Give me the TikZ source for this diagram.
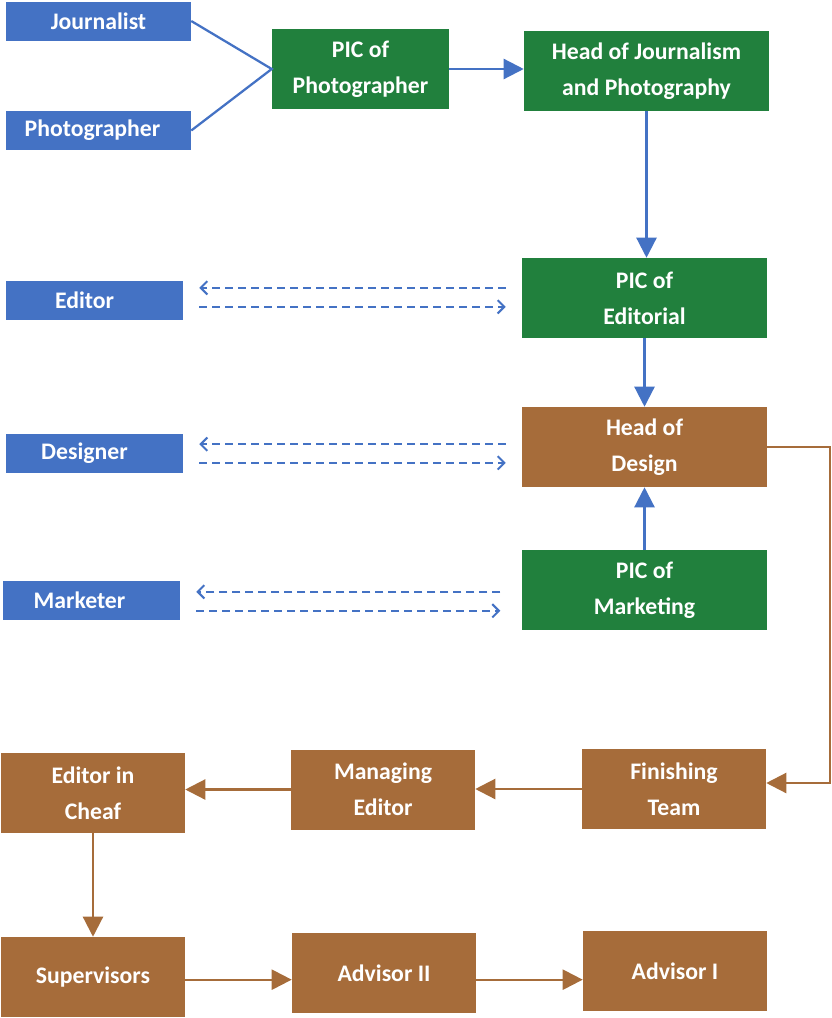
\documentclass[tikz,border=0pt]{standalone}
\usepackage{fontspec}
\setmainfont{Carlito}
\usepackage{tikz}
\usetikzlibrary{arrows.meta}
\usepackage{xcolor}
\definecolor{boxblue}{RGB}{68,114,196}
\definecolor{boxgreen}{RGB}{33,128,61}
\definecolor{boxbrown}{RGB}{166,108,58}

\begin{document}
\begin{tikzpicture}[x=0.75pt,y=0.75pt,yscale=-1,xscale=1,
  box/.style={text=white, font=\fontsize{17.8}{27}\selectfont\bfseries, align=center, inner sep=0pt},
  bluebox/.style={box, fill=boxblue, minimum width=132.75pt, minimum height=29.25pt},
  greenbox/.style={box, fill=boxgreen, minimum width=183.75pt, minimum height=60pt},
  brownbox/.style={box, fill=boxbrown, minimum width=138pt, minimum height=60pt},
  bluearr/.style={draw=boxblue, line width=1.7pt, -{Triangle[length=15pt,width=15pt]}},
  brownarr/.style={draw=boxbrown, line width=1.7pt, -{Triangle[length=15pt,width=15pt]}},
  dasharr/.style={draw=boxblue, line width=1.5pt, dash pattern={on 6pt off 3.75pt}, shorten <=12pt, shorten >=12pt, -{Straight Barb[length=5pt,width=10pt]}}
]
\useasboundingbox (0,0) rectangle (832,1018);

% Blue boxes
\node [bluebox, minimum width=138.75pt] (jour) at (98.5,21) {Journalist};
\node [bluebox, minimum width=138.75pt] (phot) at (98.5,130.5) {Photographer\kern9pt};
\node [bluebox] (ed) at (94.5,300.5) {Editor\kern15pt};
\node [bluebox] (des) at (94.5,453.5) {Designer\kern15pt};
\node [bluebox] (mark) at (91.5,600.5) {Marketer\kern18pt};

% Green boxes
\node [greenbox, minimum width=132.75pt] (picph) at (360.5,69) {PIC of\\Photographer};
\node [greenbox] (headjp) at (646.5,71) {Head of Journalism\\and Photography};
\node [greenbox] (pice) at (644.5,298) {PIC of\\Editorial};
\node [greenbox] (picm) at (644.5,590) {PIC of\\Marketing};

% Brown boxes
\node [brownbox, minimum width=183.75pt] (headd) at (644.5,447) {Head of\\Design};
\node [brownbox] (eic) at (93,793) {Editor in\\Cheaf};
\node [brownbox] (maned) at (383,789.5) {Managing\\Editor};
\node [brownbox] (fin) at (674,789) {Finishing\\Team};
\node [brownbox] (sup) at (93,977) {Supervisors};
\node [brownbox] (adv2) at (384,973) {Advisor II};
\node [brownbox] (adv1) at (675,971) {Advisor I};

% Blue connectors
\draw [draw=boxblue, line width=1.7pt] (jour.east) -- (picph.west) -- (phot.east);
\draw [bluearr] (picph.east) -- (picph.east -| headjp.west);
\draw [bluearr] (headjp.south) -- (headjp.south |- pice.north);
\draw [bluearr] (pice.south) -- (headd.north);
\draw [bluearr] (picm.north) -- (headd.south);

% Dashed two-way links
\draw [dasharr] ([yshift=-9.5pt]ed.east -| pice.west) -- ([yshift=-9.5pt]ed.east);
\draw [dasharr] ([yshift=4.75pt]ed.east) -- ([yshift=4.75pt]ed.east -| pice.west);
\draw [dasharr] ([yshift=-7pt]des.east -| headd.west) -- ([yshift=-7pt]des.east);
\draw [dasharr] ([yshift=7pt]des.east) -- ([yshift=7pt]des.east -| headd.west);
\draw [dasharr, shorten <=16pt] ([yshift=-6.5pt]mark.east -| picm.west) -- ([yshift=-6.5pt]mark.east);
\draw [dasharr, shorten >=16pt] ([yshift=7.75pt]mark.east) -- ([yshift=7.75pt]mark.east -| picm.west);

% Brown connectors
\draw [brownarr] (headd.east) -- ++(63,0) |- ([yshift=-4.5pt]fin.east);
\draw [brownarr] (fin.west) -- (fin.west -| maned.east);
\draw [brownarr] (maned.west) -- (maned.west -| eic.east);
\draw [brownarr] (eic.south) -- (eic.south |- sup.north);
\draw [brownarr] ([yshift=2pt]sup.east) -- ([yshift=2pt]sup.east -| adv2.west);
\draw [brownarr] ([yshift=5pt]adv2.east) -- ([yshift=5pt]adv2.east -| adv1.west);
\end{tikzpicture}
\end{document}
